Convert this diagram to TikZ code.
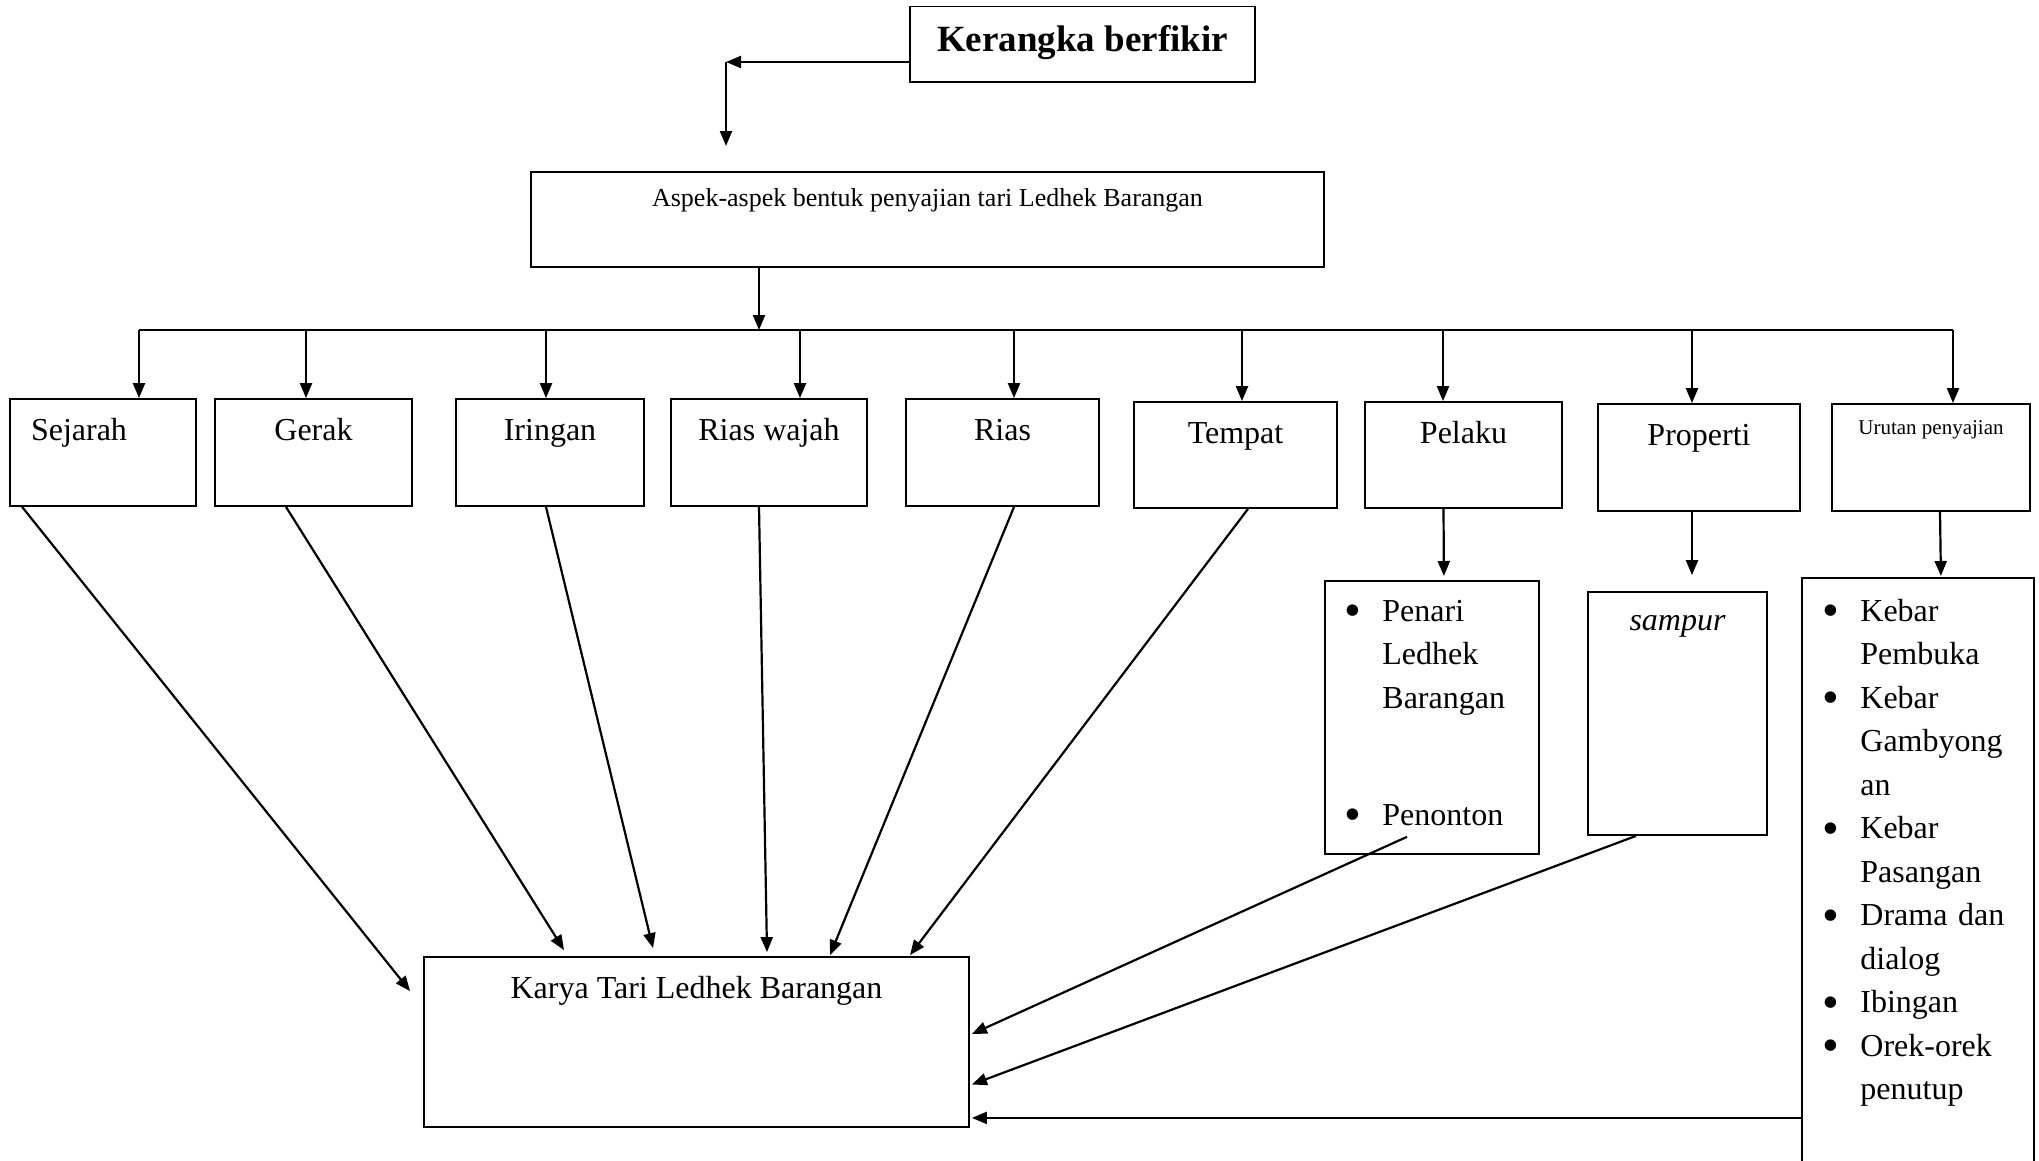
\documentclass[tikz,border=0pt]{standalone}
\usepackage{fontspec}
\setmainfont{Liberation Serif}
\usepackage{tikz}
\usetikzlibrary{arrows.meta,
                positioning
            }

\newcommand{\titik}{\makebox[11pt][c]{\raisebox{-5.5pt}{\fontsize{48}{48}\selectfont\textbullet}}}

\tikzset{
    kotak/.style={draw, line width=1.8pt, inner sep=0pt, minimum width=#1,
                  text height=41pt, text depth=66pt},
    daftar/.style={draw, line width=1.8pt, anchor=north west, align=left, inner ysep=0pt},
    panah/.style={line width=2.2pt, -{Triangle[length=15pt, width=12pt]}},
    garis/.style={line width=2.2pt}
}

\begin{document}
\begin{tikzpicture}[x=1pt, y=-1pt, font=\fontsize{32}{43.5}\selectfont]
            \useasboundingbox (0,0) rectangle (2039,1160);
            % judul dan aspek
            \node[kotak=345pt, text height=44.8pt, text depth=30.7pt, font=\fontsize{37}{44}\selectfont\bfseries] (judul) at (1082.5, 44.25) {Kerangka berfikir};
            \node[kotak=793pt, text height=34pt, text depth=61pt, font=\fontsize{26}{30}\selectfont] (aspek) at (927.5, 219.5) {Aspek-aspek bentuk penyajian tari Ledhek Barangan};
            \coordinate (sudut) at (726, 62);
            \coordinate (turun) at (726, 146);
            \draw[panah] (judul.west |- sudut) -- (sudut);
            \draw[panah] (sudut) -- (turun);
            % baris aspek
            \node[kotak=186pt, text width=144pt, inner xsep=21pt, align=left] (sejarah) at (103, 452.5) {Sejarah};
            \node[kotak=197pt] (gerak) at (313.5, 452.5) {Gerak};
            \node[kotak=188pt] (iringan) at (550, 452.5) {Iringan};
            \node[kotak=196pt] (riaswajah) at (769, 452.5) {Rias wajah};
            \node[kotak=193pt] (rias) at (1002.5, 452.5) {Rias};
            \node[kotak=203pt, text depth=65pt] (tempat) at (1235.5, 455) {Tempat};
            \node[kotak=197pt, text depth=65pt] (pelaku) at (1463.5, 455) {Pelaku};
            \node[kotak=202pt] (properti) at (1699, 457.5) {Properti};
            \node[kotak=198pt, text height=30pt, text depth=77pt, font=\fontsize{21}{25}\selectfont] (urutan) at (1931, 457.5) {Urutan penyajian};
            % garis bagi
            \coordinate (busL) at (139, 330);
            \coordinate (busR) at (1953, 330);
            \draw[garis] (busL) -- (busR);
            \draw[panah] ([xshift=-168.5pt]aspek.south) -- ([xshift=-168.5pt]aspek.south |- busL);
            \draw[panah] ([xshift=36pt]sejarah.north |- busL) -- ([xshift=36pt]sejarah.north);
            \draw[panah] ([xshift=-7.5pt]gerak.north |- busL) -- ([xshift=-7.5pt]gerak.north);
            \draw[panah] ([xshift=-4pt]iringan.north |- busL) -- ([xshift=-4pt]iringan.north);
            \draw[panah] ([xshift=31pt]riaswajah.north |- busL) -- ([xshift=31pt]riaswajah.north);
            \draw[panah] ([xshift=11.5pt]rias.north |- busL) -- ([xshift=11.5pt]rias.north);
            \draw[panah] ([xshift=6.5pt]tempat.north |- busL) -- ([xshift=6.5pt]tempat.north);
            \draw[panah] ([xshift=-20.5pt]pelaku.north |- busL) -- ([xshift=-20.5pt]pelaku.north);
            \draw[panah] ([xshift=-7pt]properti.north |- busL) -- ([xshift=-7pt]properti.north);
            \draw[panah] ([xshift=22pt]urutan.north |- busL) -- ([xshift=22pt]urutan.north);
            % rincian
            \node[daftar, text width=169pt, inner xsep=22.5pt, text height=40.5pt, text depth=232.5pt] (penari) at (1324, 580) {%
                \begin{tabular}[t]{@{}l@{\hspace{24pt}}l@{}}
                \titik & Penari\\
                 & Ledhek\\
                 & Barangan\\[73.5pt]
                \titik & Penonton
                \end{tabular}};
            \node[kotak=179pt, text height=38pt, text depth=205pt, font=\fontsize{32}{43.5}\selectfont\itshape] (sampur) at (1677.5, 713.5) {sampur};
            \node[daftar, text width=185pt, inner xsep=23.5pt, text height=43.5pt, text depth=560pt] (kebar) at (1801, 577) {%
                \begin{tabular}[t]{@{}l@{\hspace{24pt}}l@{}}
                \titik & Kebar\\
                 & Pembuka\\
                \titik & Kebar\\
                 & Gambyong\\
                 & an\\
                \titik & Kebar\\
                 & Pasangan\\
                \titik & Drama dan\\
                 & dialog\\
                \titik & Ibingan\\
                \titik & Orek-orek\\
                 & penutup
                \end{tabular}};
            \draw[panah] ([xshift=-20pt]pelaku.south) -- ([xshift=12pt, yshift=4pt]penari.north);
            \draw[panah] ([xshift=-7pt]properti.south) -- ([xshift=14.5pt, yshift=16pt]sampur.north);
            \draw[panah] ([xshift=9pt]urutan.south) -- ([xshift=23pt, yshift=1pt]kebar.north);
            % hasil
            \node[kotak=545pt, text height=41.5pt, text depth=128.5pt] (karya) at (696.5, 1042) {Karya Tari Ledhek Barangan};
            \draw[panah] ([xshift=13pt]sejarah.south west) -- ([xshift=-13pt, yshift=-35pt]karya.north west);
            \draw[panah] ([xshift=-27.5pt]gerak.south) -- ([xshift=-132.5pt, yshift=6pt]karya.north);
            \draw[panah] ([xshift=-4pt]iringan.south) -- ([xshift=-43.5pt, yshift=8pt]karya.north);
            \draw[panah] ([xshift=-10pt]riaswajah.south) -- ([xshift=70.5pt, yshift=4pt]karya.north);
            \draw[panah] ([xshift=11.5pt]rias.south) -- ([xshift=133.5pt, yshift=1pt]karya.north);
            \draw[panah] ([xshift=12.5pt]tempat.south) -- ([xshift=213.5pt, yshift=1pt]karya.north);
            \draw[panah] ([xshift=83pt, yshift=18pt]penari.south west) -- ([xshift=2pt, yshift=8pt]karya.east);
            \draw[panah] ([xshift=-41.5pt]sampur.south) -- ([xshift=2pt, yshift=-42.5pt]karya.east);
            \coordinate (masuk) at ([xshift=2pt, yshift=10pt]karya.south east);
            \draw[panah] (kebar.west |- masuk) -- (masuk);
        \end{tikzpicture}
\end{document}
